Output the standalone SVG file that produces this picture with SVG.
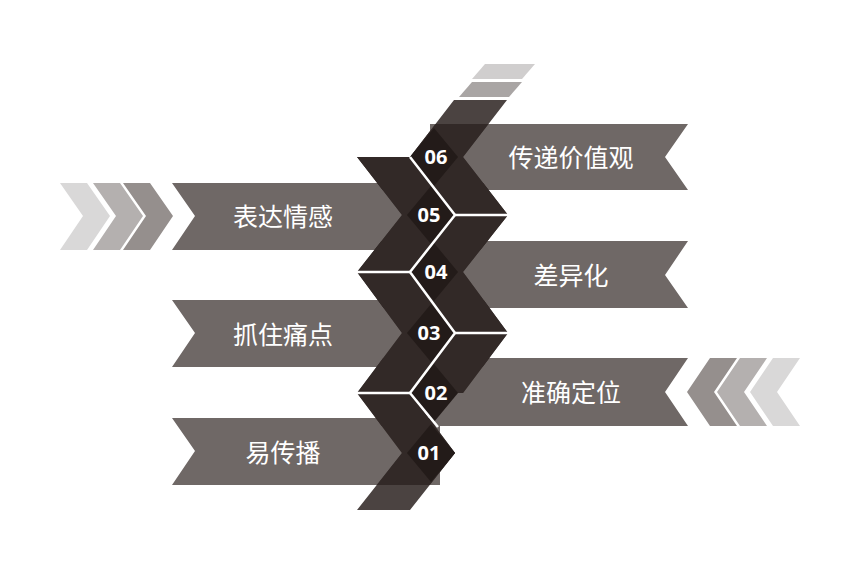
<svg xmlns="http://www.w3.org/2000/svg" width="841" height="570" viewBox="0 0 841 570">
<style>
.rib{fill:#6f6866}
.lbl{fill:#fff;font-family:"Noto Sans CJK SC",sans-serif;font-size:25px;text-anchor:middle}
.num{fill:#fff;font-family:"Open Sans","DejaVu Sans",sans-serif;font-weight:bold;font-size:20px;text-anchor:middle}
.wl{stroke:#fff;stroke-width:2.5;fill:none}
.ov{fill:#322927}
.dm{fill:#231b19}
</style>
<defs>
<clipPath id="strip">
<polygon points="454,100 507,100 463,157 508,215 463,272 508,333 463,393 410,393 455,453 410,510 357,510 402,453 357,393 402,333 357,272 402,215 357,157 410,157"/>
</clipPath>
</defs>
<rect width="841" height="570" fill="#fff"/>
<g id="chevrons">
<polygon fill="#d9d8d8" points="60,183 87,183 110,216 87,250 60,250 83,216"/>
<polygon fill="#b4b0af" points="93,183 120,183 143,216 120,250 93,250 116,216"/>
<polygon fill="#958f8d" points="126,183 153,183 176,216 153,250 126,250 149,216" transform="translate(-3,0)"/>
<polygon fill="#d9d8d8" points="800,358 773,358 750,392 773,426 800,426 777,392"/>
<polygon fill="#b4b0af" points="767,358 740,358 717,392 740,426 767,426 744,392"/>
<polygon fill="#958f8d" points="734,358 707,358 684,392 707,426 734,426 711,392" transform="translate(3,0)"/>
<polygon fill="#d0cece" points="472,79 485,64 535,64 522,79"/>
<polygon fill="#a9a5a4" points="459,97 472,82 522,82 509,97"/>
</g>
<g id="ribbons">
<polygon class="rib" points="430,124 688,124 665,157 688,190 430,190"/>
<polygon class="rib" points="172,183 440,183 440,250 172,250 195,216"/>
<polygon class="rib" points="430,241 688,241 665,275 688,308 430,308"/>
<polygon class="rib" points="172,300 440,300 440,367 172,367 195,333"/>
<polygon class="rib" points="430,358 688,358 665,392 688,426 430,426"/>
<polygon class="rib" points="172,418 440,418 440,485 172,485 195,451"/>
</g>
<g id="strip-band">
<polygon fill="#4b4341" points="454,100 507,100 463,157 508,215 463,272 508,333 463,393 410,393 455,453 410,510 357,510 402,453 357,393 402,333 357,272 402,215 357,157 410,157"/>
<g clip-path="url(#strip)">
<rect class="ov" x="300" y="124" width="250" height="66"/>
<rect class="ov" x="300" y="183" width="250" height="67"/>
<rect class="ov" x="300" y="241" width="250" height="67"/>
<rect class="ov" x="300" y="300" width="250" height="67"/>
<rect class="ov" x="300" y="358" width="250" height="68"/>
<rect class="ov" x="300" y="418" width="250" height="67"/>
</g>
</g>
<g id="n06"><polygon class="dm" points="410,157 434,128 458,157 434,186"/><text class="num" x="436" y="164">06</text></g>
<g id="n05"><polygon class="dm" points="455,215 431,186 407,215 431,244"/><text class="num" x="429" y="222">05</text></g>
<g id="n04"><polygon class="dm" points="410,272 434,243 458,272 434,301"/><text class="num" x="436" y="279">04</text></g>
<g id="n03"><polygon class="dm" points="455,333 431,304 407,333 431,362"/><text class="num" x="429" y="340">03</text></g>
<g id="n02"><polygon class="dm" points="410,393 434,364 458,393 434,422"/><text class="num" x="436" y="400">02</text></g>
<g id="n01"><polygon class="dm" points="455,453 431,424 407,453 431,482"/><text class="num" x="429" y="460">01</text></g>
<g id="connectors">
<polyline class="wl" points="410,157 455,215 410,272 455,333 410,393 438,427"/>
<line class="wl" x1="455" y1="215" x2="508" y2="215"/>
<line class="wl" x1="455" y1="333" x2="508" y2="333"/>
<line class="wl" x1="357" y1="272" x2="410" y2="272"/>
<line class="wl" x1="357" y1="393" x2="410" y2="393"/>
</g>
<g id="labels">
<text class="lbl" x="571" y="167">传递价值观</text>
<text class="lbl" x="283" y="226">表达情感</text>
<text class="lbl" x="571" y="285">差异化</text>
<text class="lbl" x="283" y="344">抓住痛点</text>
<text class="lbl" x="571" y="402">准确定位</text>
<text class="lbl" x="283" y="462">易传播</text>
</g>
</svg>
